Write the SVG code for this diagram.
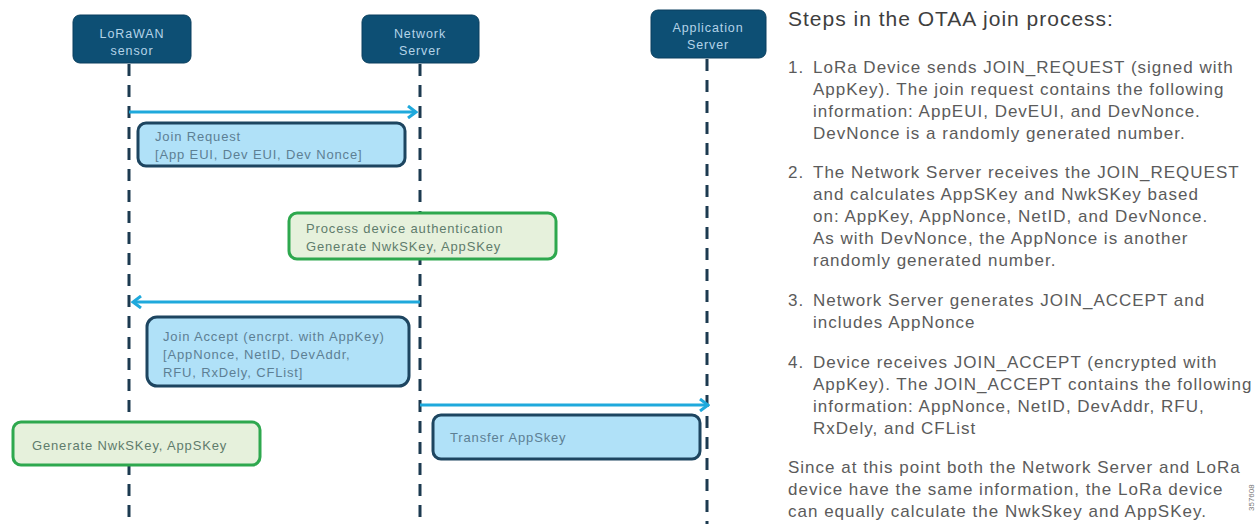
<svg xmlns="http://www.w3.org/2000/svg" width="1259" height="524" viewBox="0 0 1259 524">
<style>
.hdr{fill:#0d4f74;stroke:#0a3f5e;stroke-width:1}
.hdrt{font-family:"Liberation Sans",Arial,sans-serif;font-size:12.5px;letter-spacing:0.9px;fill:#b4d3e8;text-anchor:middle}
.life{stroke:#1c3a50;stroke-width:3;stroke-dasharray:12 9;fill:none}
.msg{stroke:#1fa9dc;stroke-width:3;fill:none}
.bbox{fill:#b0e1f8;stroke:#1d4560;stroke-width:3}
.gbox{fill:#e6f1dc;stroke:#2ea84e;stroke-width:3}
.bt{font-family:"Liberation Sans",Arial,sans-serif;font-size:13px;letter-spacing:0.85px;fill:#5d7f94}
.gt{font-family:"Liberation Sans",Arial,sans-serif;font-size:13px;letter-spacing:0.85px;fill:#5f7c6c}
.title{font-family:"Liberation Sans",Arial,sans-serif;font-size:21px;letter-spacing:1px;fill:#3e3e3e}
.body{font-family:"Liberation Sans",Arial,sans-serif;font-size:17px;letter-spacing:1px;fill:#5b5b5b}
</style>
<defs>
<marker id="ah" markerWidth="12" markerHeight="14" refX="10" refY="7" orient="auto" markerUnits="userSpaceOnUse">
<path d="M2,1 L10,7 L2,13" fill="none" stroke="#1fa9dc" stroke-width="3"/>
</marker>
</defs>
<rect width="1259" height="524" fill="#ffffff"/>
<g id="lifelines">
<line class="life" x1="129" y1="64" x2="129" y2="524"/>
<line class="life" x1="420" y1="64" x2="420" y2="524"/>
<line class="life" x1="707" y1="59" x2="707" y2="524"/>
</g>
<g id="node-lorawan">
<rect class="hdr" x="73" y="15" width="118" height="48" rx="7"/>
<text class="hdrt" x="132" y="38">LoRaWAN</text>
<text class="hdrt" x="132" y="55">sensor</text>
</g>
<g id="node-network">
<rect class="hdr" x="362" y="15" width="117" height="48" rx="7"/>
<text class="hdrt" x="420" y="38">Network</text>
<text class="hdrt" x="420" y="55">Server</text>
</g>
<g id="node-application">
<rect class="hdr" x="651" y="10" width="115" height="48" rx="7"/>
<text class="hdrt" x="708" y="32">Application</text>
<text class="hdrt" x="708" y="49">Server</text>
</g>
<g id="connectors">
<line class="msg" x1="129" y1="112" x2="416" y2="112" marker-end="url(#ah)"/>
<line class="msg" x1="420" y1="302" x2="133" y2="302" marker-end="url(#ah)"/>
<line class="msg" x1="420" y1="405" x2="708" y2="405" marker-end="url(#ah)"/>
</g>
<g id="node-join-request">
<rect class="bbox" x="138" y="123" width="267" height="43" rx="8"/>
<text class="bt" x="155" y="141">Join Request</text>
<text class="bt" x="155" y="159">[App EUI, Dev EUI, Dev Nonce]</text>
</g>
<g id="node-process-auth">
<rect class="gbox" x="289" y="213" width="267" height="46" rx="8"/>
<text class="gt" x="306" y="233">Process device authentication</text>
<text class="gt" x="306" y="251">Generate NwkSKey, AppSKey</text>
</g>
<g id="node-join-accept">
<rect class="bbox" x="147" y="317" width="262" height="69" rx="10"/>
<text class="bt" x="163" y="341">Join Accept (encrpt. with AppKey)</text>
<text class="bt" x="163" y="359">[AppNonce, NetID, DevAddr,</text>
<text class="bt" x="163" y="377">RFU, RxDely, CFList]</text>
</g>
<g id="node-generate-keys">
<rect class="gbox" x="13" y="422" width="247" height="43" rx="8"/>
<text class="gt" x="32" y="450">Generate NwkSKey, AppSKey</text>
</g>
<g id="node-transfer">
<rect class="bbox" x="433" y="415" width="267" height="44" rx="8"/>
<text class="bt" x="450" y="442">Transfer AppSkey</text>
</g>
<g id="steps-panel">
<text class="title" x="788" y="26">Steps in the OTAA join process:</text>
<g class="body">
<text x="788" y="73">1.</text>
<text x="813" y="73">LoRa Device sends JOIN_REQUEST (signed with</text>
<text x="813" y="95">AppKey). The join request contains the following</text>
<text x="813" y="117">information: AppEUI, DevEUI, and DevNonce.</text>
<text x="813" y="139">DevNonce is a randomly generated number.</text>
<text x="788" y="178">2.</text>
<text x="813" y="178">The Network Server receives the JOIN_REQUEST</text>
<text x="813" y="200">and calculates AppSKey and NwkSKey based</text>
<text x="813" y="222">on: AppKey, AppNonce, NetID, and DevNonce.</text>
<text x="813" y="244">As with DevNonce, the AppNonce is another</text>
<text x="813" y="266">randomly generated number.</text>
<text x="788" y="306">3.</text>
<text x="813" y="306">Network Server generates JOIN_ACCEPT and</text>
<text x="813" y="328">includes AppNonce</text>
<text x="788" y="368">4.</text>
<text x="813" y="368">Device receives JOIN_ACCEPT (encrypted with</text>
<text x="813" y="390">AppKey). The JOIN_ACCEPT contains the following</text>
<text x="813" y="412">information: AppNonce, NetID, DevAddr, RFU,</text>
<text x="813" y="434">RxDely, and CFList</text>
<text x="788" y="473">Since at this point both the Network Server and LoRa</text>
<text x="788" y="495">device have the same information, the LoRa device</text>
<text x="788" y="517">can equally calculate the NwkSkey and AppSKey.</text>
</g>
<text transform="translate(1254,511) rotate(-90)" font-family="Liberation Sans,Arial,sans-serif" font-size="8" fill="#777">357608</text>
</g>
</svg>
